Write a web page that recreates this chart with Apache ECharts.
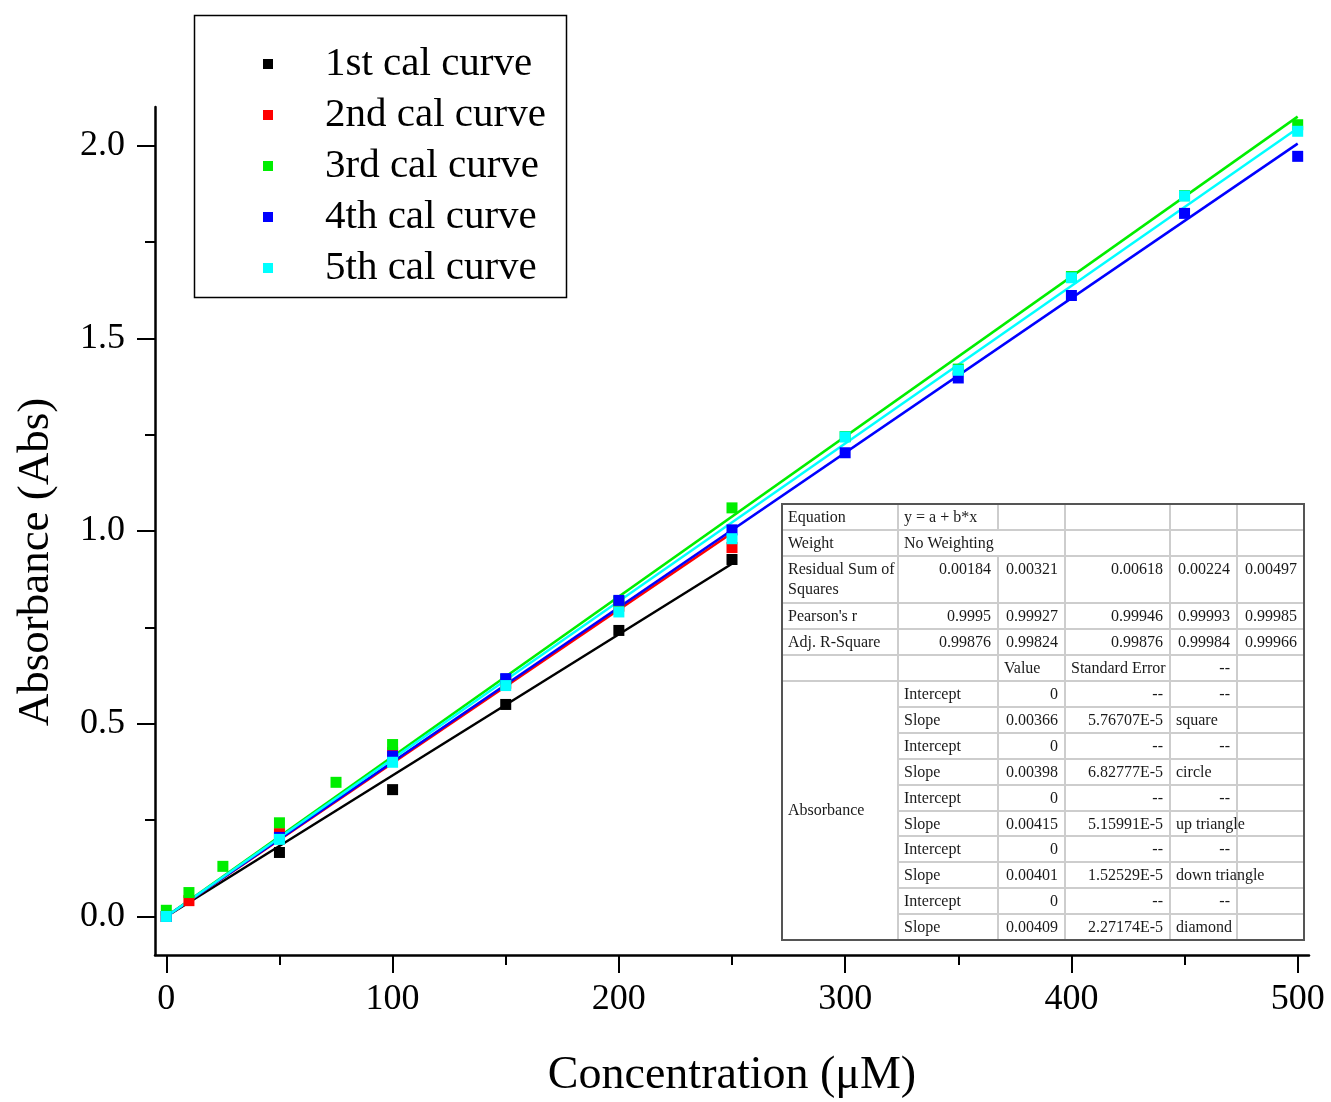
<!DOCTYPE html>
<html>
<head>
<meta charset="utf-8">
<script src="https://cdn.jsdelivr.net/npm/echarts@6/dist/echarts.min.js"></script>
<style>
  html, body { margin: 0; padding: 0; background: #ffffff; }
  #chart { width: 1331px; height: 1102px; }
</style>
</head>
<body>
<div id="chart"></div>
<script>
// ---- measured calibration data (concentration in µM, absorbance) ----
const seriesNames = ['1st cal curve', '2nd cal curve', '3rd cal curve', '4th cal curve', '5th cal curve'];

const concentration1 = [0, 50, 100, 150, 200, 250];
const absorbance1    = [0.000, 0.166, 0.329, 0.550, 0.742, 0.926];

const concentration2 = [0, 10, 50, 100, 150, 200, 250];
const absorbance2    = [0.000, 0.041, 0.215, 0.425, 0.605, 0.805, 0.957];

const concentration3 = [0, 10, 25, 50, 75, 100, 150, 200, 250, 300, 350, 400, 450, 500];
const absorbance3    = [0.016, 0.062, 0.130, 0.243, 0.348, 0.446, 0.615, 0.818, 1.060, 1.245, 1.420, 1.660, 1.870, 2.054];

const concentration4 = [0, 50, 100, 150, 200, 250, 300, 350, 400, 450, 500];
const absorbance4    = [0.000, 0.205, 0.416, 0.617, 0.820, 1.003, 1.203, 1.397, 1.611, 1.824, 1.972];

const concentration5 = [0, 50, 100, 150, 200, 250, 300, 350, 400, 450, 500];
const absorbance5    = [0.000, 0.200, 0.400, 0.599, 0.790, 0.980, 1.244, 1.417, 1.657, 1.869, 2.037];

// linear fits through the origin (y = b*x)
const fitSlopes   = [0.00366, 0.00398, 0.00415, 0.00401, 0.00409];
const slopeErrors = ['5.76707E-5', '6.82777E-5', '5.15991E-5', '1.52529E-5', '2.27174E-5'];
const fitShapes   = ['square', 'circle', 'up triangle', 'down triangle', 'diamond'];

// fit statistics, one value per curve
const residualSS  = ['0.00184', '0.00321', '0.00618', '0.00224', '0.00497'];
const pearsonR    = ['0.9995', '0.99927', '0.99946', '0.99993', '0.99985'];
const adjRSquare  = ['0.99876', '0.99824', '0.99876', '0.99984', '0.99966'];

// axis ticks
const xMajorTicks = [0, 100, 200, 300, 400, 500];
const xMinorTicks = [50, 150, 250, 350, 450];
const yMajorTicks = [0, 0.5, 1.0, 1.5, 2.0];
const yMinorTicks = [0.25, 0.75, 1.25, 1.75];

// ---- styling ----
const colors = ['#000000', '#ff0000', '#00ee00', '#0000ff', '#00ffff'];
const SERIF = '"Liberation Serif", "Times New Roman", serif';

const concentrations = [concentration1, concentration2, concentration3, concentration4, concentration5];
const absorbances    = [absorbance1, absorbance2, absorbance3, absorbance4, absorbance5];

const series = [];
seriesNames.forEach(function (name, i) {
  const xs = concentrations[i];
  const ys = absorbances[i];
  series.push({
    name: name,
    type: 'scatter',
    symbol: 'rect',
    symbolSize: 11,
    itemStyle: { color: colors[i], opacity: 1 },
    emphasis: { disabled: true },
    data: xs.map(function (x, k) { return [x, ys[k]]; }),
    z: 3
  });
  const xEnd = Math.max.apply(null, xs);
  series.push({
    name: name + ' fit',
    type: 'line',
    showSymbol: false,
    symbol: 'none',
    lineStyle: { color: colors[i], width: 2.5 },
    itemStyle: { color: colors[i] },
    data: [[0, 0], [xEnd, fitSlopes[i] * xEnd]],
    silent: true,
    z: 3
  });
});

// ---- fit report table (drawn with graphic elements) ----
const tableCols = [782, 898, 998, 1065, 1170, 1237, 1304];
const tableRows = [504, 530, 556, 603, 629, 655, 681, 707, 733, 759, 785, 811, 836, 862, 888, 914, 940];

const tableCells = [
  ['Equation', 'y = a + b*x', '', '', '', ''],
  ['Weight', 'No Weighting', '', '', '', ''],
  ['Residual Sum of\nSquares'].concat(residualSS),
  ["Pearson's r"].concat(pearsonR),
  ['Adj. R-Square'].concat(adjRSquare),
  ['', '', 'Value', 'Standard Error', '--', '']
];
fitSlopes.forEach(function (b, i) {
  tableCells.push(['', 'Intercept', '0', '--', '--', '']);
  tableCells.push(['', 'Slope', String(b), slopeErrors[i], fitShapes[i], '']);
});

const tableEls = [];
const T_LEFT = tableCols[0], T_RIGHT = tableCols[tableCols.length - 1];
const T_TOP = tableRows[0], T_BOTTOM = tableRows[tableRows.length - 1];
tableEls.push({
  type: 'rect', z: 100,
  shape: { x: T_LEFT, y: T_TOP, width: T_RIGHT - T_LEFT, height: T_BOTTOM - T_TOP },
  style: { fill: '#ffffff', stroke: null }
});
const gridStroke = { stroke: '#cdcdcd', lineWidth: 2 };
// horizontal rules
for (let r = 1; r < tableRows.length - 1; r++) {
  const x0 = r > 6 ? tableCols[1] : T_LEFT;
  tableEls.push({ type: 'line', z: 101, shape: { x1: x0, y1: tableRows[r], x2: T_RIGHT, y2: tableRows[r] }, style: gridStroke });
}
// vertical rules (the "No Weighting" cell spans two columns)
for (let c = 1; c < tableCols.length - 1; c++) {
  if (c === 2) {
    tableEls.push({ type: 'line', z: 101, shape: { x1: tableCols[c], y1: T_TOP, x2: tableCols[c], y2: tableRows[1] }, style: gridStroke });
    tableEls.push({ type: 'line', z: 101, shape: { x1: tableCols[c], y1: tableRows[2], x2: tableCols[c], y2: T_BOTTOM }, style: gridStroke });
  } else {
    tableEls.push({ type: 'line', z: 101, shape: { x1: tableCols[c], y1: T_TOP, x2: tableCols[c], y2: T_BOTTOM }, style: gridStroke });
  }
}
// outer frame
tableEls.push({
  type: 'rect', z: 102,
  shape: { x: T_LEFT, y: T_TOP, width: T_RIGHT - T_LEFT, height: T_BOTTOM - T_TOP },
  style: { fill: null, stroke: '#555555', lineWidth: 2 }
});
// cell texts
const isNumeric = function (s) { return /^[-\d.E]+$/.test(s); };
tableCells.forEach(function (row, r) {
  row.forEach(function (txt, c) {
    if (!txt) return;
    const right = isNumeric(txt);
    tableEls.push({
      type: 'text', z: 103,
      style: {
        text: txt,
        x: right ? tableCols[c + 1] - 7 : tableCols[c] + 6,
        y: tableRows[r] + 4,
        font: '16px ' + SERIF,
        fill: '#1a1a1a',
        textAlign: right ? 'right' : 'left',
        align: right ? 'right' : 'left',
        textVerticalAlign: 'top',
        verticalAlign: 'top',
        lineHeight: 20
      }
    });
  });
});
tableEls.push({
  type: 'text', z: 103,
  style: {
    text: 'Absorbance',
    x: tableCols[0] + 6,
    y: (tableRows[6] + T_BOTTOM) / 2,
    font: '16px ' + SERIF,
    fill: '#1a1a1a',
    textAlign: 'left', align: 'left',
    textVerticalAlign: 'middle', verticalAlign: 'middle'
  }
});

// legend frame
const legendFrame = {
  type: 'rect', z: 50,
  shape: { x: 194.5, y: 15.5, width: 372, height: 282 },
  style: { fill: null, stroke: '#000000', lineWidth: 1.5 }
};

const axisFont = { fontFamily: SERIF, color: '#000000' };

const option = {
  animation: false,
  backgroundColor: '#ffffff',
  grid: { left: 155, right: 22, top: 107, bottom: 147, containLabel: false, outerBoundsMode: 'none' },
  legend: {
    data: seriesNames,
    orient: 'vertical',
    left: 263,
    top: 43,
    padding: 0,
    icon: 'rect',
    itemWidth: 10,
    itemHeight: 10,
    itemGap: 9,
    selectedMode: false,
    itemStyle: { opacity: 1 },
    textStyle: { fontFamily: SERIF, fontSize: 41, color: '#000000', lineHeight: 42, padding: [0, 0, 0, 47] }
  },
  xAxis: [
    {
      type: 'value', min: -5, max: 505, position: 'bottom',
      name: 'Concentration (\u03bcM)', nameLocation: 'middle', nameGap: 98,
      nameTextStyle: Object.assign({ fontSize: 46 }, axisFont),
      axisLine: { show: true, onZero: false, lineStyle: { color: '#000', width: 2.5 } },
      axisTick: { show: true, length: 18, customValues: xMajorTicks, lineStyle: { color: '#000', width: 2 } },
      axisLabel: Object.assign({ fontSize: 36, margin: 27, customValues: xMajorTicks }, axisFont),
      splitLine: { show: false }
    },
    {
      type: 'value', min: -5, max: 505, position: 'bottom',
      axisLine: { show: false, onZero: false },
      axisTick: { show: true, length: 10, customValues: xMinorTicks, lineStyle: { color: '#000', width: 2 } },
      axisLabel: { show: false },
      splitLine: { show: false }
    }
  ],
  yAxis: [
    {
      type: 'value', min: -0.1, max: 2.1, position: 'left',
      name: 'Absorbance (Abs)', nameLocation: 'middle', nameGap: 96,
      nameTextStyle: Object.assign({ fontSize: 45, padding: [0, 62, 0, 0] }, axisFont),
      axisLine: { show: true, onZero: false, lineStyle: { color: '#000', width: 2.5 } },
      axisTick: { show: true, length: 18, customValues: yMajorTicks, lineStyle: { color: '#000', width: 2 } },
      axisLabel: Object.assign({
        fontSize: 36, margin: 30, customValues: yMajorTicks,
        formatter: function (v) { return v.toFixed(1); }
      }, axisFont),
      splitLine: { show: false }
    },
    {
      type: 'value', min: -0.1, max: 2.1, position: 'left',
      axisLine: { show: false, onZero: false },
      axisTick: { show: true, length: 10, customValues: yMinorTicks, lineStyle: { color: '#000', width: 2 } },
      axisLabel: { show: false },
      splitLine: { show: false }
    }
  ],
  series: series,
  graphic: { elements: [legendFrame].concat(tableEls) }
};

const chart = echarts.init(document.getElementById('chart'), null, { renderer: 'canvas' });
chart.setOption(option);
</script>
</body>
</html>
